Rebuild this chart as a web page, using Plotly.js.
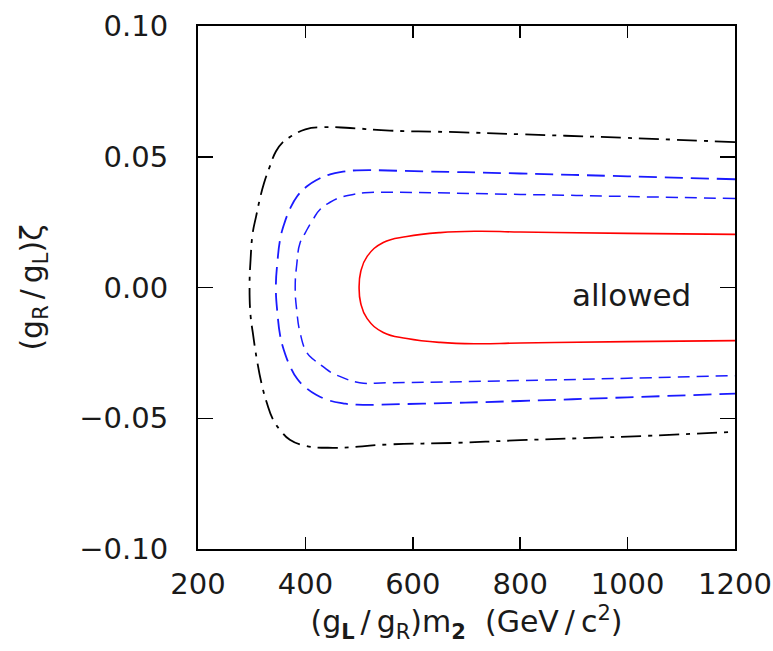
<!DOCTYPE html>
<html>
<head>
<meta charset="utf-8">
<script src="https://cdn.plot.ly/plotly-3.0.1.min.js"></script>
<style>html,body{margin:0;padding:0;background:#fff;}#chart{width:773px;height:651px;}</style>
</head>
<body>
<div id="chart"></div>
<script>
// Contour curves
const blackX = [1200, 1000, 800, 682, 557, 483, 433, 400, 375, 358, 345, 334, 323, 315, 308, 302, 298, 296, 298, 302, 310, 318, 328, 340, 355, 371, 400, 451, 557, 682, 800, 1000, 1200];
const blackY = [0.0556, 0.0572, 0.0586, 0.0594, 0.0600, 0.0610, 0.0613, 0.0605, 0.0580, 0.0556, 0.0520, 0.0464, 0.0400, 0.0337, 0.0270, 0.0210, 0.0110, 0.0, -0.0110, -0.0172, -0.0280, -0.0364, -0.0440, -0.0506, -0.0550, -0.0582, -0.0605, -0.0613, -0.0600, -0.0594, -0.0584, -0.0570, -0.0552];

const blueOuterX = [1200, 1000, 800, 619, 496, 470, 446, 420, 403, 385, 371, 360, 353, 348, 345, 348, 353, 360, 371, 385, 403, 420, 446, 470, 496, 619, 800, 1000, 1200];
const blueOuterY = [0.0414, 0.0425, 0.0436, 0.0444, 0.0448, 0.0443, 0.0433, 0.0410, 0.0387, 0.0350, 0.0299, 0.0240, 0.0184, 0.0100, 0.0, -0.0100, -0.0184, -0.0240, -0.0299, -0.0350, -0.0387, -0.0410, -0.0433, -0.0443, -0.0448, -0.0444, -0.0434, -0.0420, -0.0406];

const blueInnerX = [1200, 1000, 800, 557, 510, 489, 466, 446, 428, 414, 400, 390, 384, 381, 384, 390, 403, 418, 433, 448, 464, 501, 557, 800, 1000, 1200];
const blueInnerY = [0.0340, 0.0348, 0.0356, 0.0364, 0.0362, 0.0356, 0.0345, 0.0326, 0.0300, 0.0260, 0.0210, 0.0170, 0.0090, 0.0, -0.0090, -0.0172, -0.0250, -0.0280, -0.0303, -0.0325, -0.0340, -0.0364, -0.0364, -0.0356, -0.0347, -0.0337];

const redX = [1200, 1000, 800, 720, 651, 589, 545, 515, 503, 500, 503, 515, 545, 589, 651, 720, 800, 1000, 1200];
const redY = [0.0203, 0.0207, 0.0212, 0.0215, 0.0210, 0.0195, 0.0172, 0.0119, 0.0060, 0.0, -0.0060, -0.0119, -0.0172, -0.0195, -0.0210, -0.0215, -0.0212, -0.0207, -0.0203];

const xTicks = [200, 400, 600, 800, 1000, 1200];
const yTicks = [-0.10, -0.05, 0.00, 0.05, 0.10];
const labelText = 'allowed';
const labelX = 1008;
const labelY = -0.003;

const traces = [
  {x: blackX, y: blackY, mode: 'lines', line: {color: '#000000', width: 1.8, dash: '20px,7px,4px,7px', shape: 'spline', smoothing: 1.3}, hoverinfo: 'skip'},
  {x: blueOuterX, y: blueOuterY, mode: 'lines', line: {color: '#1a1aff', width: 1.8, dash: '18px,8px', shape: 'spline', smoothing: 1.3}, hoverinfo: 'skip'},
  {x: blueInnerX, y: blueInnerY, mode: 'lines', line: {color: '#1a1aff', width: 1.5, dash: '12px,7px', shape: 'spline', smoothing: 1.3}, hoverinfo: 'skip'},
  {x: redX, y: redY, mode: 'lines', line: {color: '#ff0000', width: 1.6, shape: 'spline', smoothing: 1.3}, hoverinfo: 'skip'}
];

const tickFont = {family: 'DejaVu Sans, sans-serif', size: 29, color: '#1a1a1a'};
const titleFont = {family: 'DejaVu Sans, sans-serif', size: 30, color: '#1a1a1a'};

const layout = {
  width: 773, height: 651,
  margin: {l: 198, r: 38, t: 26, b: 102},
  paper_bgcolor: '#ffffff', plot_bgcolor: '#ffffff',
  showlegend: false,
  xaxis: {
    range: [200, 1200], tickvals: xTicks, ticktext: xTicks.map(String),
    ticks: 'inside', ticklen: 12, tickwidth: 1.5, tickcolor: '#000',
    showline: true, linecolor: '#000', linewidth: 2, mirror: 'ticks',
    showgrid: false, zeroline: false, tickfont: tickFont, ticklabelstandoff: 8,
    title: {text: '(g<sub><b>L</b></sub>\u2009/\u2009g<sub>R</sub>)m<sub><b>2</b></sub>  (GeV\u2009/\u2009c<sup>2</sup>)', font: titleFont, standoff: 2}
  },
  yaxis: {
    range: [-0.10, 0.10], tickvals: yTicks, tickformat: '.2f',
    ticks: 'inside', ticklen: 15, tickwidth: 1.5, tickcolor: '#000',
    showline: true, linecolor: '#000', linewidth: 2, mirror: 'ticks',
    showgrid: false, zeroline: false, tickfont: tickFont, ticklabelstandoff: 22,
    title: {text: '(g<sub>R</sub>\u2009/\u2009g<sub>L</sub>)ζ', font: titleFont, standoff: 28}
  },
  annotations: [{
    x: labelX, y: labelY, xref: 'x', yref: 'y', text: labelText, showarrow: false,
    font: {family: 'DejaVu Sans, sans-serif', size: 31, color: '#1a1a1a'}
  }]
};

Plotly.newPlot('chart', traces, layout, {displayModeBar: false, staticPlot: true});
</script>
</body>
</html>
